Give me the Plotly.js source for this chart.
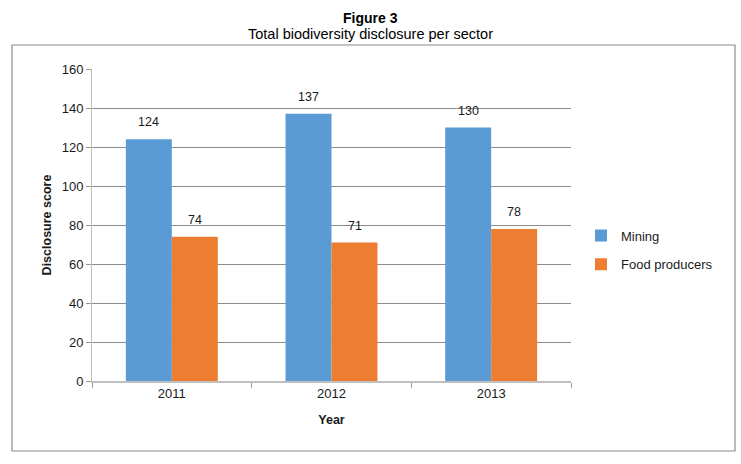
<!DOCTYPE html>
<html>
<head>
<meta charset="utf-8">
<script src="https://cdn.plot.ly/plotly-3.0.1.min.js"></script>
<style>html,body{margin:0;padding:0;background:#fff;}#chart{width:741px;height:464px;}</style>
</head>
<body>
<div id="chart"></div>
<script>
var years = ['2011', '2012', '2013'];
var mining = [124, 137, 130];
var food = [74, 71, 78];
var seriesNames = ['Mining', 'Food producers'];
var yTicks = [0, 20, 40, 60, 80, 100, 120, 140, 160];

var FONT = 'Liberation Sans, Arial, sans-serif';
var TXT = '#1a1a1a';

var traces = [
  {type: 'bar', name: seriesNames[0], x: years, y: mining, marker: {color: '#5B9BD5'}, legendgroup: 'a', hoverinfo: 'y'},
  {type: 'bar', name: seriesNames[1], x: years, y: food, marker: {color: '#ED7D31'}, legendgroup: 'b', hoverinfo: 'y'}
];

var annotations = [];
years.forEach(function (yr, i) {
  annotations.push({x: i, y: mining[i], xref: 'x', yref: 'y', text: String(mining[i]), showarrow: false,
    xshift: -23, yshift: 17, font: {family: FONT, size: 12.5, color: TXT}});
  annotations.push({x: i, y: food[i], xref: 'x', yref: 'y', text: String(food[i]), showarrow: false,
    xshift: 23, yshift: 17, font: {family: FONT, size: 12.5, color: TXT}});
});
annotations.push({xref: 'paper', yref: 'paper', x: (370.5 - 92) / 479, y: (381 - 18.5) / 312, text: '<b>Figure 3</b>',
  showarrow: false, font: {family: FONT, size: 14, color: '#000'}, xanchor: 'center', yanchor: 'middle'});
annotations.push({xref: 'paper', yref: 'paper', x: (370.5 - 92) / 479, y: (381 - 34) / 312, text: 'Total biodiversity disclosure per sector',
  showarrow: false, font: {family: FONT, size: 14.5, color: '#000'}, xanchor: 'center', yanchor: 'middle'});

var layout = {
  width: 741, height: 464,
  margin: {l: 92, r: 170, t: 69, b: 83},
  paper_bgcolor: '#fff', plot_bgcolor: '#fff',
  barmode: 'group', bargap: 0.424, bargroupgap: 0,
  font: {family: FONT, size: 12, color: TXT},
  showlegend: true,
  legend: {x: (581 - 92) / 479, y: (381 - 250) / 312, xanchor: 'left', yanchor: 'middle',
    font: {family: FONT, size: 13, color: TXT}, traceorder: 'grouped', tracegroupgap: 9, itemwidth: 30},
  xaxis: {type: 'category', range: [-0.5, 2.5], tickson: 'boundaries', ticks: 'outside', ticklen: 5, tickcolor: '#999',
    showline: true, linecolor: '#bfbfbf', linewidth: 1.5, showgrid: false, zeroline: false,
    tickfont: {family: FONT, size: 13, color: TXT}, tickangle: 0,
    title: {text: '<b>Year</b>', font: {family: FONT, size: 12.5, color: TXT}, standoff: 15}},
  yaxis: {range: [0, 160], tickvals: yTicks, ticks: 'outside', ticklen: 5, tickcolor: '#999',
    showline: true, linecolor: '#bfbfbf', linewidth: 1, showgrid: true, gridcolor: '#8c8c8c', gridwidth: 1,
    zeroline: false, tickfont: {family: FONT, size: 13, color: TXT},
    title: {text: '<b>Disclosure score</b>', font: {family: FONT, size: 12.5, color: TXT}, standoff: 7}},
  annotations: annotations,
  shapes: [{type: 'rect', xref: 'paper', yref: 'paper',
    x0: (12 - 92) / 479, x1: (735 - 92) / 479, y0: (381 - 451) / 312, y1: (381 - 45) / 312,
    line: {color: '#8c8c8c', width: 1.2}, fillcolor: 'rgba(0,0,0,0)', layer: 'below'}]
};

Plotly.newPlot('chart', traces, layout, {displayModeBar: false, staticPlot: true});
</script>
</body>
</html>
